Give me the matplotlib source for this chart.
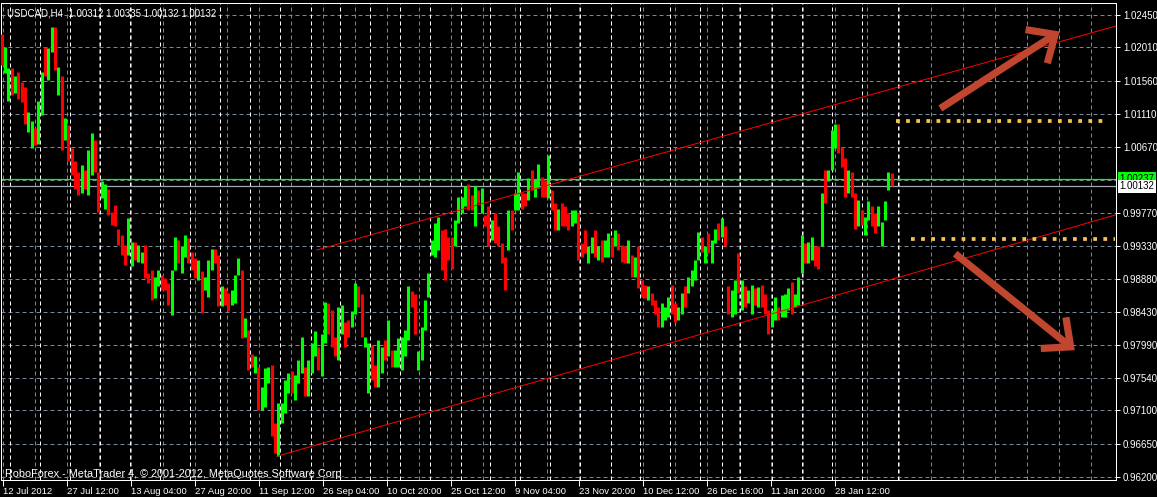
import matplotlib
matplotlib.use("Agg")
import numpy as np
from matplotlib import pyplot as plt
from matplotlib.patches import FancyArrowPatch, ArrowStyle
from matplotlib.transforms import blended_transform_factory

plt.rcParams['font.family'] = ['Liberation Sans', 'DejaVu Sans']

# USDCAD H4 (one bar here ~ 3.3 H4 candles)
bar_open = [
    1.0219, 1.0166, 1.0128, 1.0173, 1.0139, 1.0168, 1.0155, 1.0148, 1.0087, 1.0065,
    1.0092, 1.0071, 1.0110, 1.0202, 1.0157, 1.0195, 1.0229, 1.0137, 1.0162, 1.0076,
    1.0096, 1.0065, 1.0047, 1.0033, 1.0004, 1.0035, 1.0001, 1.0029, 1.0076, 1.0033,
    0.9997, 0.9983, 1.0010, 0.9979, 0.9988, 0.9956, 0.9947, 0.9934, 0.9920, 0.9905,
    0.9938, 0.9911, 0.9909, 0.9934, 0.9896,
    0.9900, 0.9862, 0.9878, 0.9893, 0.9889, 0.9882, 0.9839, 0.9900, 0.9941, 0.9896,
    0.9918, 0.9943, 0.9925, 0.9916, 0.9887, 0.9898, 0.9873, 0.9864, 0.9900, 0.9929,
    0.9920, 0.9851, 0.9875, 0.9869, 0.9853, 0.9855, 0.9893, 0.9900, 0.9810, 0.9819,
    0.9787, 0.9760, 0.9769, 0.9711, 0.9715, 0.9747, 0.9772, 0.9693, 0.9648, 0.9693,
    0.9706, 0.9733, 0.9763, 0.9724, 0.9747,
    0.9760, 0.9769, 0.9729, 0.9760, 0.9783, 0.9796, 0.9756, 0.9801, 0.9855, 0.9846,
    0.9810, 0.9778, 0.9814, 0.9830, 0.9832, 0.9823, 0.9841, 0.9878, 0.9868, 0.9796,
    0.9733, 0.9799, 0.9771, 0.9742, 0.9760, 0.9805, 0.9783, 0.9792, 0.9769, 0.9769,
    0.9765, 0.9783, 0.9805, 0.9871, 0.9868, 0.9765, 0.9778, 0.9819, 0.9864, 0.9920,
    0.9918, 0.9927, 0.9954, 0.9956, 0.9945,
    0.9945, 0.9932, 0.9963, 0.9977, 0.9986, 1.0017, 1.0002, 0.9959, 1.0008, 0.9977,
    0.9974, 0.9986, 0.9941, 0.9977, 0.9959, 0.9936, 0.9918, 0.9927, 0.9981, 0.9981,
    0.9981, 1.0004, 1.0004, 0.9995, 1.0035, 0.9999, 1.0011, 1.0026, 1.0022, 0.9997,
    1.0008, 0.9990, 0.9954, 0.9990, 0.9986, 0.9977, 0.9959, 0.9963, 0.9977, 0.9936,
    0.9954, 0.9909, 0.9923, 0.9954, 0.9914,
    0.9941, 0.9918, 0.9918, 0.9945, 0.9932, 0.9950, 0.9934, 0.9932, 0.9909, 0.9920,
    0.9891, 0.9932, 0.9887, 0.9880, 0.9860, 0.9869, 0.9860, 0.9850, 0.9823, 0.9832,
    0.9837, 0.9880, 0.9855, 0.9832, 0.9841, 0.9878, 0.9869, 0.9878, 0.9887, 0.9914,
    0.9945, 0.9909, 0.9950, 0.9909, 0.9936, 0.9963, 0.9945, 0.9959, 0.9878, 0.9837,
    0.9841, 0.9923, 0.9846, 0.9878, 0.9855,
    0.9841, 0.9875, 0.9850, 0.9880, 0.9868, 0.9846, 0.9823, 0.9832, 0.9850, 0.9837,
    0.9837, 0.9846, 0.9884, 0.9850, 0.9853, 0.9896, 0.9936, 0.9909, 0.9914, 0.9932,
    0.9932, 0.9932, 1.0035, 1.0020, 1.0035, 1.0065, 1.0098, 1.0067, 1.0051, 1.0004,
    1.0033, 1.0004, 0.9959, 0.9981, 0.9947, 0.9968, 0.9986, 0.9977, 0.9959, 0.9932,
    0.9968, 1.0008, 1.0031,
]
bar_close = [
    1.0177, 1.0202, 1.0173, 1.0137, 1.0162, 1.0132, 1.0127, 1.0098, 1.0114, 1.0101,
    1.0069, 1.0128, 1.0168, 1.0162, 1.0200, 1.0229, 1.0171, 1.0175, 1.0062, 1.0105,
    1.0047, 1.0029, 1.0010, 1.0001, 1.0042, 1.0010, 1.0062, 1.0085, 1.0033, 0.9979,
    1.0020, 1.0017, 0.9974, 0.9961, 0.9959, 0.9934, 0.9920, 0.9907, 0.9970, 0.9938,
    0.9914, 0.9934, 0.9925, 0.9889, 0.9882,
    0.9860, 0.9891, 0.9900, 0.9873, 0.9873, 0.9853, 0.9900, 0.9945, 0.9909, 0.9932,
    0.9947, 0.9909, 0.9900, 0.9889, 0.9914, 0.9842, 0.9891, 0.9914, 0.9929, 0.9909,
    0.9851, 0.9878, 0.9853, 0.9844, 0.9873, 0.9893, 0.9916, 0.9808, 0.9835, 0.9765,
    0.9769, 0.9783, 0.9711, 0.9742, 0.9767, 0.9769, 0.9675, 0.9652, 0.9720, 0.9720,
    0.9751, 0.9760, 0.9733, 0.9758, 0.9778,
    0.9810, 0.9729, 0.9778, 0.9801, 0.9817, 0.9765, 0.9814, 0.9857, 0.9814, 0.9796,
    0.9783, 0.9850, 0.9853, 0.9796, 0.9810, 0.9844, 0.9882, 0.9850, 0.9810, 0.9810,
    0.9801, 0.9751, 0.9742, 0.9805, 0.9796, 0.9778, 0.9832, 0.9769, 0.9792, 0.9808,
    0.9810, 0.9819, 0.9878, 0.9850, 0.9814, 0.9790, 0.9823, 0.9859, 0.9896, 0.9941,
    0.9963, 0.9972, 0.9900, 0.9887, 0.9914,
    0.9902, 0.9968, 0.9999, 0.9999, 1.0013, 0.9981, 0.9981, 1.0013, 0.9990, 1.0011,
    0.9959, 0.9932, 0.9968, 0.9936, 0.9932, 0.9909, 0.9873, 0.9981, 0.9954, 1.0004,
    1.0033, 0.9983, 0.9986, 1.0024, 1.0008, 1.0022, 1.0044, 0.9999, 0.9999, 1.0056,
    0.9981, 0.9954, 0.9983, 0.9959, 0.9959, 0.9954, 0.9981, 0.9981, 0.9914, 0.9918,
    0.9923, 0.9932, 0.9945, 0.9918, 0.9932,
    0.9911, 0.9941, 0.9950, 0.9918, 0.9954, 0.9927, 0.9911, 0.9909, 0.9941, 0.9891,
    0.9918, 0.9875, 0.9864, 0.9862, 0.9878, 0.9853, 0.9841, 0.9823, 0.9855, 0.9850,
    0.9864, 0.9841, 0.9830, 0.9850, 0.9869, 0.9850, 0.9891, 0.9900, 0.9914, 0.9952,
    0.9925, 0.9932, 0.9923, 0.9941, 0.9956, 0.9941, 0.9970, 0.9932, 0.9841, 0.9873,
    0.9887, 0.9869, 0.9887, 0.9850, 0.9873,
    0.9880, 0.9853, 0.9877, 0.9850, 0.9841, 0.9814, 0.9846, 0.9864, 0.9832, 0.9866,
    0.9868, 0.9875, 0.9841, 0.9868, 0.9891, 0.9947, 0.9909, 0.9938, 0.9945, 0.9905,
    0.9902, 1.0004, 0.9990, 1.0035, 1.0089, 1.0098, 1.0058, 1.0040, 0.9999, 1.0035,
    0.9999, 0.9956, 0.9995, 0.9961, 0.9972, 0.9993, 0.9959, 0.9950, 0.9986, 0.9965,
    0.9993, 1.0033, 1.0013,
]

ask_price = 1.00237
bid_price = 1.00132

price_ticks = [1.02450, 1.02010, 1.01560, 1.01110, 1.00670, 0.99770, 0.99330,
               0.98880, 0.98430, 0.97990, 0.97540, 0.97100, 0.96650, 0.96200]
hidden_grid_price = 1.00220  # label is covered by the price tags

date_labels = ["12 Jul 2012", "27 Jul 12:00", "13 Aug 04:00", "27 Aug 20:00",
               "11 Sep 12:00", "26 Sep 04:00", "10 Oct 20:00", "25 Oct 12:00",
               "9 Nov 04:00", "23 Nov 20:00", "10 Dec 12:00", "26 Dec 16:00",
               "11 Jan 20:00", "28 Jan 12:00"]

# weekly period separators (bar positions)
week_starts = [2.5, 11.5, 20.5, 29.5, 38.5, 47.5, 56.5, 65.5, 74.5, 83.5,
               92.8, 101.5, 110.5, 119.5, 128.5, 137.8, 146.5, 155.5, 164.5, 173.5,
               182.8, 191.5, 200.5, 209.5, 216.1, 221.5, 231.1, 240.1, 249.1, 258.1,
               268.9]

# hand drawn objects: (bar, price) anchors
channel_upper = [(94.6, 0.99271), (255.1, 1.01300)]
channel_lower = [(82.6, 0.96480), (269.5, 0.98906)]
resistance = (268.4, 330.3, 1.01020)
support = (272.9, 334.0, 0.99420)
arrow_up = [(280.9, 1.01165), (318.1, 1.02247)]
arrow_down = [(285.4, 0.99244), (322.6, 0.97891)]

title_text = "USDCAD,H4  1.00312 1.00335 1.00132 1.00132"
footer_text = "RoboForex - MetaTrader 4, \u00a9 2001-2012, MetaQuotes Software Corp."

W, H = 1157, 497
GRID = '#778899'
DASH = (0, (4, 3))
PX = 0.72  # one pixel in points at 100 dpi

fig = plt.figure(figsize=(W / 100, H / 100), dpi=100, facecolor='black')
ax = fig.add_axes([1 / W, 17 / H, 1115 / W, 477 / H], facecolor='black')
x_min, x_max = -0.2, 334.3
ax.set_xlim(x_min, x_max)
ax.set_ylim(0.96159, 1.02612)

# grid
for p in price_ticks + [hidden_grid_price]:
    ax.axhline(p, color=GRID, lw=PX, ls=DASH, zorder=1)
for k in range(35):
    ax.axvline(0.4 + 9.6 * k, color=GRID, lw=PX, ls=DASH, zorder=1)
for x in week_starts:
    ax.axvline(x, color='white', lw=PX, ls=DASH, zorder=1.5)

# bars
o = np.array(bar_open)
c = np.array(bar_close)
idx = np.arange(len(o))
cols = np.where(c >= o, '#00ff00', '#ff0000')
ax.vlines(idx, np.minimum(o, c), np.maximum(o, c), colors=cols, lw=2.2, zorder=3)

# price lines
ax.axhline(ask_price, color='#00ff00', lw=0.9, zorder=2)
ax.axhline(bid_price, color='#a0a8b0', lw=0.9, zorder=2)

# channel rays
for (x0, y0), (x1, y1) in (channel_upper, channel_lower):
    slope = (y1 - y0) / (x1 - x0)
    ax.plot([x0, x_max], [y0, y0 + slope * (x_max - x0)], color='#ff0000', lw=PX, zorder=4)

# dotted levels
for x0, x1, p in (resistance, support):
    ax.plot([x0, x1], [p, p], color='#f7c34f', lw=2.7, ls=(0, (1, 1.7)),
            dash_capstyle='butt', zorder=4)

# arrows
for tail, tip in (arrow_up, arrow_down):
    ax.add_patch(FancyArrowPatch(tail, tip, arrowstyle=ArrowStyle('->', head_length=1.0, head_width=0.9),
                                 mutation_scale=16, lw=5.2, color='#c0462f', zorder=5,
                                 capstyle='butt', joinstyle='miter'))

# axes look
for s in ax.spines.values():
    s.set_color('white')
    s.set_linewidth(PX)
ax.yaxis.tick_right()
ax.set_yticks(price_ticks, [f"{p:.5f}" for p in price_ticks])
ax.set_xticks([0.4 + 19.2 * k for k in range(len(date_labels))], date_labels)
for t in ax.get_xticklabels():
    t.set_ha('left')
ax.tick_params(axis='y', colors='white', labelsize=7, length=3, width=PX, pad=2)
ax.tick_params(axis='x', colors='white', labelsize=6.8, length=4, width=PX, pad=1)

# price tags
tr = blended_transform_factory(ax.transAxes, ax.transData)
ax.annotate("1.00237", xy=(1, ask_price), xycoords=tr, xytext=(2.5, 0), textcoords='offset points',
            ha='left', va='center', fontsize=7, color='black', zorder=10, annotation_clip=False,
            bbox=dict(boxstyle='square,pad=0.15', fc='#00ff00', ec='none'))
ax.annotate("1.00132", xy=(1, bid_price), xycoords=tr, xytext=(2.5, 0), textcoords='offset points',
            ha='left', va='center', fontsize=7, color='black', zorder=10, annotation_clip=False,
            bbox=dict(boxstyle='square,pad=0.15', fc='white', ec='none'))

fig.text(7 / W, 1 - 13 / H, title_text, color='white', fontsize=7, va='center', ha='left')
fig.text(5 / W, 1 - 474 / H, footer_text, color='white', fontsize=7.8, va='center', ha='left')

fig.savefig('out.png', dpi=100, facecolor='black')
